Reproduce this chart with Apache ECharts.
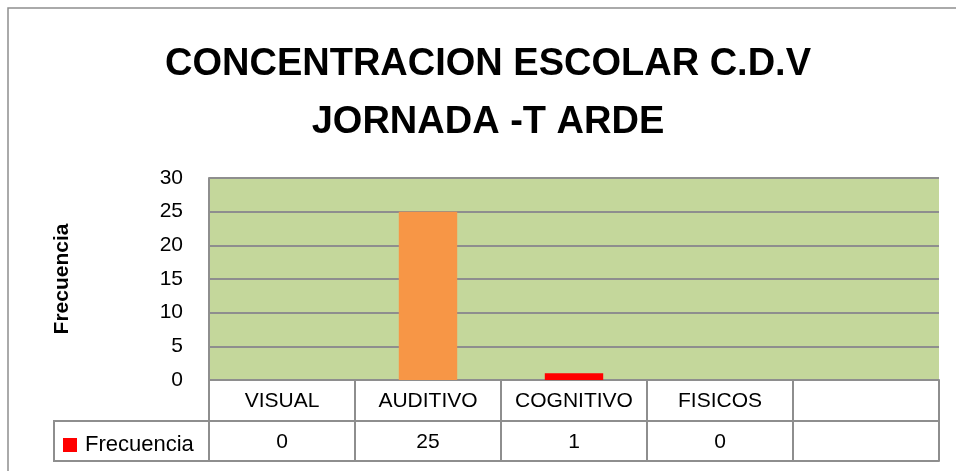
<!DOCTYPE html>
<html>
<head>
<meta charset="utf-8">
<script src="https://cdn.jsdelivr.net/npm/echarts@6/dist/echarts.min.js"></script>
<style>html,body{margin:0;padding:0;background:#fff;}#c{width:956px;height:471px;}</style>
</head>
<body>
<div id="c"></div>
<script>
const titleLines = ['CONCENTRACION ESCOLAR C.D.V', 'JORNADA -T ARDE'];
const seriesName = 'Frecuencia';
const categories = ['VISUAL', 'AUDITIVO', 'COGNITIVO', 'FISICOS', ''];
const values = [0, 25, 1, 0, null];
const yTicks = [0, 5, 10, 15, 20, 25, 30];

const seriesColor = '#ff0000';
const highlightColor = { 'AUDITIVO': '#f79646' };
const lineColor = '#8e8e8e';
const font = 'Liberation Sans, Arial, sans-serif';

const chart = echarts.init(document.getElementById('c'), null, { renderer: 'canvas' });
const valueLabels = values.map(v => v == null ? '' : String(v));

chart.setOption({
  backgroundColor: '#ffffff',
  animation: false,
  textStyle: { fontFamily: font },
  title: {
    text: titleLines.join('\n'),
    left: 488,
    textAlign: 'center',
    top: 36,
    padding: 0,
    textStyle: { fontSize: 38, fontWeight: 'bold', lineHeight: 58, color: '#000', fontFamily: font }
  },
  legend: {
    data: [seriesName],
    left: 63,
    top: 434,
    padding: 0,
    itemWidth: 14,
    itemHeight: 14,
    icon: 'rect',
    itemGap: 5,
    textStyle: { fontSize: 22, color: '#000', fontFamily: font, padding: [0, 0, 0, 3] }
  },
  grid: {
    left: 209, right: 17, top: 178, bottom: 91,
    show: true, backgroundColor: '#c4d79b', borderWidth: 0
  },
  xAxis: [
    {
      type: 'category', data: categories, position: 'bottom',
      axisLine: { show: true, lineStyle: { color: lineColor, width: 2 } },
      axisTick: { show: true, length: 81, interval: 0, lineStyle: { color: lineColor, width: 2 } },
      axisLabel: { interval: 0, margin: 11, fontSize: 21, color: '#000', fontFamily: font },
      splitLine: { show: false }
    },
    {
      type: 'category', data: valueLabels, position: 'bottom', offset: 41,
      axisLine: { show: true, lineStyle: { color: lineColor, width: 2 } },
      axisTick: { show: false },
      axisLabel: { interval: 0, margin: 11, fontSize: 21, color: '#000', fontFamily: font }
    },
    {
      type: 'category', data: categories, position: 'bottom', offset: 81,
      axisLine: { show: true, lineStyle: { color: lineColor, width: 2 } },
      axisTick: { show: false },
      axisLabel: { show: false }
    }
  ],
  yAxis: {
    type: 'value', min: yTicks[0], max: yTicks[yTicks.length - 1], interval: yTicks[1] - yTicks[0],
    name: seriesName, nameLocation: 'middle', nameRotate: 90, nameGap: 136,
    nameTextStyle: { fontSize: 21, fontWeight: 'bold', color: '#000', fontFamily: font },
    axisLine: { show: true, lineStyle: { color: lineColor, width: 2 } },
    axisTick: { show: false },
    axisLabel: { margin: 26, fontSize: 21, color: '#000', fontFamily: font },
    splitLine: { show: true, lineStyle: { color: lineColor, width: 2 } }
  },
  series: [{
    name: seriesName, type: 'bar', xAxisIndex: 0,
    barWidth: '40%',
    itemStyle: { color: seriesColor },
    data: values.map((v, i) => highlightColor[categories[i]]
      ? { value: v, itemStyle: { color: highlightColor[categories[i]] } }
      : v)
  }],
  graphic: [
    { type: 'rect', z: 100, silent: true, shape: { x: 8, y: 8, width: 1000, height: 500 },
      style: { fill: 'none', stroke: lineColor, lineWidth: 1.5 } },
    { type: 'rect', z: 0, silent: true, shape: { x: 54, y: 421, width: 155, height: 40 },
      style: { fill: 'none', stroke: lineColor, lineWidth: 2 } }
  ]
});
</script>
</body>
</html>
